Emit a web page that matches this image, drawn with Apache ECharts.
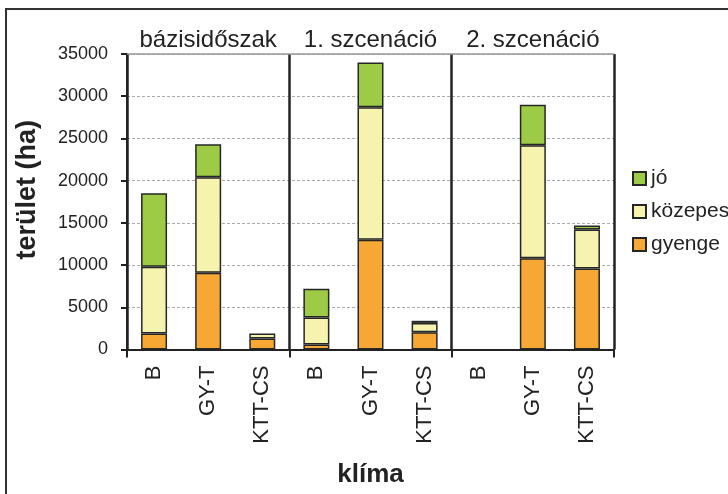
<!DOCTYPE html>
<html>
<head>
<meta charset="utf-8">
<script src="https://cdn.jsdelivr.net/npm/echarts@6/dist/echarts.min.js"></script>
<style>
  html, body { margin: 0; padding: 0; background: #fff; }
  #chart { width: 728px; height: 494px; }
</style>
</head>
<body>
<div id="chart"></div>
<script>
// Periods and the climate models within each period
const periods = ['bázisidőszak', '1. szcenáció', '2. szcenáció'];
const models = ['B', 'GY-T', 'KTT-CS'];
const categories = periods.flatMap(() => models);

// Area (ha) by suitability class, 9 bars: period x model
const gyenge  = [1900, 9100, 1300,  600, 13000, 2050, null, 10800, 9600];
const kozepes = [7900, 11300, 600, 3200, 15700, 1100, null, 13400, 4600];
const jo      = [8700, 3900, null, 3400, 5300,  250, null, 4800,  500];

const yTicks = { min: 0, max: 35000, interval: 5000 };

const FONT = '"Liberation Sans", Arial, Helvetica, sans-serif';
const colors = { jo: '#9dcb45', kozepes: '#f5f3ad', gyenge: '#f7a733' };

const barStyle = (color) => ({ color: color, borderColor: '#262626', borderWidth: 1.5 });

const chart = echarts.init(document.getElementById('chart'));
chart.setOption({
  backgroundColor: '#fff',
  animation: false,
  textStyle: { fontFamily: FONT },
  graphic: [{
    type: 'rect',
    shape: { x: 6, y: 9, width: 900, height: 700 },
    style: { fill: 'none', stroke: '#333', lineWidth: 2 },
    silent: true, z: 0
  }],
  grid: { left: 127, right: 114, top: 54, bottom: 144.5, containLabel: false },
  legend: {
    orient: 'vertical',
    left: 627, top: 163,
    itemWidth: 13, itemHeight: 13, itemGap: 12,
    data: ['jó', 'közepes', 'gyenge'],
    textStyle: { fontFamily: FONT, fontSize: 21, color: '#222' },
    icon: 'rect'
  },
  xAxis: [
    {
      type: 'category', data: categories, position: 'bottom',
      axisLine: { lineStyle: { color: '#222', width: 2 } },
      axisTick: { show: false },
      axisLabel: { rotate: 90, interval: 0, fontSize: 22, color: '#222', margin: 16, fontFamily: FONT },
      name: 'klíma', nameLocation: 'middle', nameGap: 112,
      nameTextStyle: { fontFamily: FONT, fontSize: 26, fontWeight: 'bold', color: '#222' }
    },
    {
      type: 'category', data: periods, position: 'top',
      axisLine: { show: true, lineStyle: { color: '#999', width: 1.5 } },
      axisTick: { show: false, interval: 0 },
      axisLabel: { interval: 0, fontSize: 24, color: '#222', margin: 2, fontFamily: FONT },
      splitLine: { show: true, interval: 0, lineStyle: { color: '#222', width: 2.5 } }
    },
    {
      type: 'category', data: periods, position: 'bottom',
      axisLine: { show: false },
      axisTick: { show: true, interval: 0, length: 8, lineStyle: { color: '#222', width: 2 } },
      axisLabel: { show: false, interval: 0 }
    }
  ],
  yAxis: {
    type: 'value', min: yTicks.min, max: yTicks.max, interval: yTicks.interval,
    axisLine: { show: true, lineStyle: { color: '#222', width: 2 } },
    axisTick: { show: true, length: 6, lineStyle: { color: '#222', width: 2 } },
    axisLabel: { fontSize: 18, color: '#222', margin: 19, fontFamily: FONT, formatter: (v) => String(v) },
    splitLine: { show: true, lineStyle: { color: '#aaa', type: [3, 2], width: 1 } },
    name: 'terület (ha)', nameLocation: 'middle', nameGap: 86,
    nameTextStyle: { fontFamily: FONT, fontSize: 27, fontWeight: 'bold', color: '#222', padding: [0, 0, 0, 24] }
  },
  series: [
    { name: 'gyenge', type: 'bar', stack: 'area', xAxisIndex: 0, barWidth: 26, data: gyenge, itemStyle: barStyle(colors.gyenge) },
    { name: 'közepes', type: 'bar', stack: 'area', xAxisIndex: 0, barWidth: 26, data: kozepes, itemStyle: barStyle(colors.kozepes) },
    { name: 'jó', type: 'bar', stack: 'area', xAxisIndex: 0, barWidth: 26, data: jo, itemStyle: barStyle(colors.jo) }
  ]
});
</script>
</body>
</html>
